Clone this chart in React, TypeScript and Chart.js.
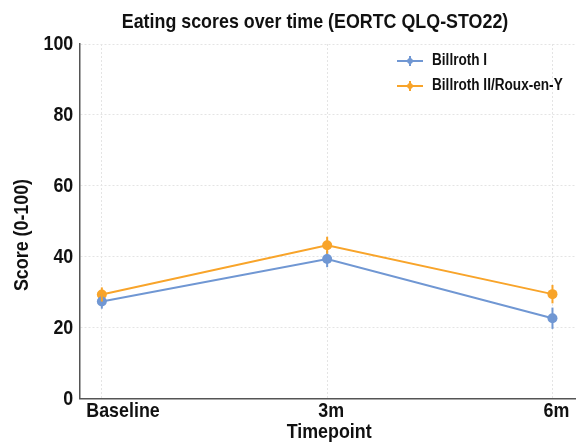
import React, { useEffect, useRef } from "react";
import { Chart, registerables } from "chart.js";

Chart.register(...registerables);

const categories = ["Baseline", "3m", "6m"];
const billrothI = [27.3, 39.3, 22.6];
const billrothIErr = [2.0, 2.3, 3.0];
const billrothII = [29.3, 43.2, 29.4];
const billrothIIErr = [2.0, 2.4, 2.6];
const seriesNames = ["Billroth I", "Billroth II/Roux-en-Y"];
const yTicks = [0, 20, 40, 60, 80, 100];

const BLUE = "#7097d3";
const ORANGE = "#f8a42a";
const FONT = "'Liberation Sans', Arial, sans-serif";
const SQUEEZE = 0.85;
const TEXT = "#111";

const errors = [billrothIErr, billrothIIErr];

function condensedText(
  ctx: CanvasRenderingContext2D,
  text: string,
  x: number,
  y: number,
  size: number,
  align: "left" | "center" | "right",
  rotate = 0
) {
  ctx.save();
  ctx.font = `bold ${size}px ${FONT}`;
  ctx.fillStyle = TEXT;
  ctx.textBaseline = "middle";
  ctx.textAlign = align;
  ctx.translate(x, y);
  if (rotate) ctx.rotate(rotate);
  ctx.scale(SQUEEZE, 1);
  ctx.fillText(text, 0, 0);
  ctx.restore();
}

const decorPlugin = {
  id: "decor",
  afterDatasetsDraw(chart: any) {
    const { ctx, scales } = chart;
    const xs = scales.x;
    const ys = scales.y;
    chart.data.datasets.forEach((ds: any, i: number) => {
      ctx.save();
      ctx.strokeStyle = ds.borderColor;
      ctx.lineWidth = 2;
      ds.data.forEach((p: any, j: number) => {
        const e = errors[i][j];
        const px = xs.getPixelForValue(p.x);
        ctx.beginPath();
        ctx.moveTo(px, ys.getPixelForValue(p.y - e));
        ctx.lineTo(px, ys.getPixelForValue(p.y + e));
        ctx.stroke();
      });
      ctx.restore();
    });
  },
  afterDraw(chart: any) {
    const { ctx, scales, chartArea } = chart;
    const xs = scales.x;
    const ys = scales.y;
    // title
    condensedText(ctx, "Eating scores over time (EORTC QLQ-STO22)", 315, 22, 21, "center");
    // y tick labels
    yTicks.forEach((v) => {
      condensedText(ctx, String(v), chartArea.left - 6, ys.getPixelForValue(v) + 0.5, 21, "right");
    });
    // x tick labels
    ctx.save();
    ctx.font = `bold 21px ${FONT}`;
    categories.forEach((c, i) => {
      const w = ctx.measureText(c).width * SQUEEZE;
      let cx = xs.getPixelForValue(i) + 4;
      if (cx - w / 2 < chartArea.left + 7) cx = chartArea.left + 7 + w / 2;
      condensedText(ctx, c, cx, chartArea.bottom + 13, 21, "center");
    });
    ctx.restore();
    // axis titles
    condensedText(ctx, "Timepoint", (chartArea.left + chartArea.right) / 2 + 2, 432, 21, "center");
    condensedText(ctx, "Score (0-100)", 22, 235, 21, "center", -Math.PI / 2);
    // legend
    const rows = [61, 86];
    chart.data.datasets.forEach((ds: any, i: number) => {
      const y = rows[i];
      ctx.save();
      ctx.strokeStyle = ds.borderColor;
      ctx.fillStyle = ds.borderColor;
      ctx.lineWidth = 2;
      ctx.beginPath();
      ctx.moveTo(397, y);
      ctx.lineTo(423, y);
      ctx.stroke();
      ctx.beginPath();
      ctx.moveTo(410, y - 5);
      ctx.lineTo(410, y + 5);
      ctx.stroke();
      ctx.beginPath();
      ctx.moveTo(410, y - 4);
      ctx.lineTo(414, y);
      ctx.lineTo(410, y + 4);
      ctx.lineTo(406, y);
      ctx.closePath();
      ctx.fill();
      ctx.restore();
      condensedText(ctx, seriesNames[i], 432, y, 16, "left");
    });
  },
};

export default function App() {
  const ref = useRef<HTMLCanvasElement>(null);
  useEffect(() => {
    document.body.style.margin = "0";
    const toPts = (arr: number[]) => arr.map((v, i) => ({ x: i, y: v }));
    const chart = new Chart(ref.current as HTMLCanvasElement, {
      type: "line",
      data: {
        datasets: [
          {
            label: seriesNames[0],
            data: toPts(billrothI),
            borderColor: BLUE,
            backgroundColor: BLUE,
            borderWidth: 2,
            pointRadius: 5,
            pointBorderWidth: 0,
          },
          {
            label: seriesNames[1],
            data: toPts(billrothII),
            borderColor: ORANGE,
            backgroundColor: ORANGE,
            borderWidth: 2,
            pointRadius: 5,
            pointBorderWidth: 0,
          },
        ],
      },
      options: {
        animation: false,
        responsive: false,
        layout: { padding: { top: 44, right: 2.4, left: 0, bottom: 0 } },
        plugins: {
          legend: { display: false },
          title: { display: false },
          tooltip: { enabled: false },
        },
        scales: {
          x: {
            type: "linear",
            min: -0.1,
            max: 2.1,
            afterFit: (s: any) => {
              s.height = 44.7;
            },
            afterBuildTicks: (s: any) => {
              s.ticks = categories.map((_, i) => ({ value: i }));
            },
            ticks: { display: false },
            grid: {
              color: "#e4e4e4",
              drawTicks: false,
              tickLength: 0,
            },
            border: { display: true, color: "#555", width: 1.5, dash: [2, 2] },
          },
          y: {
            min: 0,
            max: 100,
            afterFit: (s: any) => {
              s.width = 79.3;
            },
            afterBuildTicks: (s: any) => {
              s.ticks = yTicks.map((v) => ({ value: v }));
            },
            ticks: { display: false },
            grid: {
              color: "#e4e4e4",
              drawTicks: false,
              tickLength: 0,
            },
            border: { display: true, color: "#555", width: 1.5, dash: [2, 2] },
          },
        },
      } as any,
      plugins: [decorPlugin],
    });
    return () => chart.destroy();
  }, []);
  return (
    <div style={{ position: "absolute", left: 0, top: 0, width: 580, height: 443 }}>
      <canvas ref={ref} width={580} height={443} />
    </div>
  );
}
